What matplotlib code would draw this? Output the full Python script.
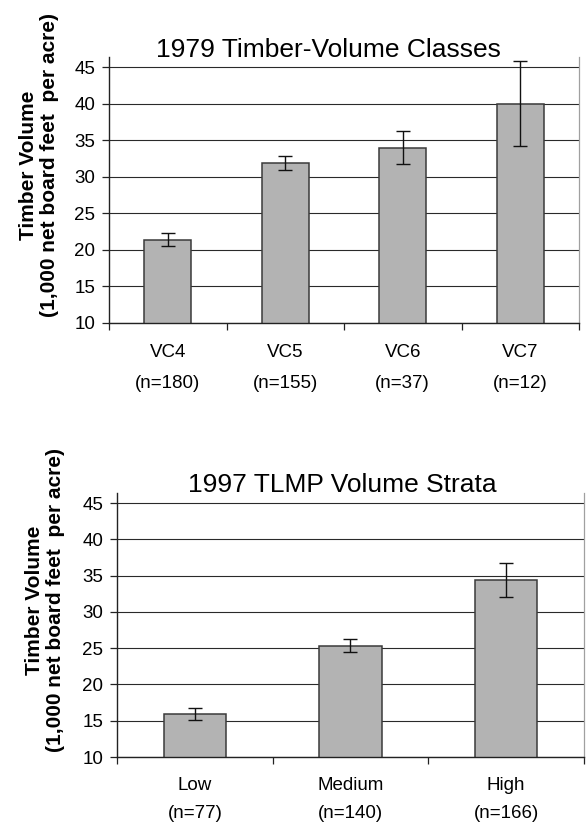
import matplotlib
matplotlib.use("Agg")
import matplotlib.pyplot as plt
import numpy as np

plt.rcParams['font.family'] = ['Liberation Sans', 'DejaVu Sans']

# ---- data ----
top_title = "1979 Timber-Volume Classes"
top_cats = ["VC4", "VC5", "VC6", "VC7"]
top_n = ["(n=180)", "(n=155)", "(n=37)", "(n=12)"]
top_vals = [21.4, 31.9, 34.0, 40.0]
top_err = [0.9, 0.93, 2.25, 5.8]

bot_title = "1997 TLMP Volume Strata"
bot_cats = ["Low", "Medium", "High"]
bot_n = ["(n=77)", "(n=140)", "(n=166)"]
bot_vals = [15.9, 25.35, 34.45]
bot_err = [0.85, 0.93, 2.35]

y_ticks = [10, 15, 20, 25, 30, 35, 40, 45]
ylabel = "Timber Volume\n(1,000 net board feet  per acre)"

W, H = 587, 823
fig = plt.figure(figsize=(W / 100, H / 100), dpi=100)

def px_ax(l, t, r, b):
    return fig.add_axes([l / W, 1 - b / H, (r - l) / W, (b - t) / H])

def draw(ax, cats, ns, vals, errs, title, title_cx, title_base, ylab_x, ylab_cy,
         lab_off, n_off):
    k = len(cats)
    x = np.arange(k) + 0.5
    ax.set_axisbelow(True)
    ax.yaxis.grid(True, color='#2a2a2a', linewidth=0.8)
    ax.bar(x, vals, width=0.4, color='#b3b3b3', edgecolor='#3a3a3a',
           linewidth=1.1, zorder=2, bottom=0)
    ax.errorbar(x, vals, yerr=errs, fmt='none', ecolor='#111111',
                elinewidth=1.0, capsize=4.7, capthick=1.0, zorder=3)
    ax.set_xlim(0, k)
    ax.set_ylim(10, 46.4)
    ax.set_yticks(y_ticks)
    ax.set_xticks(np.arange(k + 1))
    ax.set_xticklabels([])
    ax.tick_params(axis='both', direction='out', length=5 / 0.72 * 0.72,
                   width=0.9, color='#222222')
    ax.tick_params(axis='y', labelsize=13.5, pad=5)
    ax.spines['top'].set_visible(False)
    ax.spines['right'].set_color('#a0a0a0')
    ax.spines['right'].set_linewidth(0.9)
    ax.spines['left'].set_color('#222222')
    ax.spines['bottom'].set_color('#222222')
    ax.spines['left'].set_linewidth(1.0)
    ax.spines['bottom'].set_linewidth(1.0)
    for xi, c, n in zip(x, cats, ns):
        ax.annotate(c, xy=(xi, 0), xycoords=('data', 'axes fraction'),
                    xytext=(0, lab_off), textcoords='offset pixels',
                    ha='center', va='baseline', fontsize=13.5)
        ax.annotate(n, xy=(xi, 0), xycoords=('data', 'axes fraction'),
                    xytext=(0, n_off), textcoords='offset pixels',
                    ha='center', va='baseline', fontsize=13.5)
    fig.text(title_cx / W, 1 - title_base / H, title, ha='center',
             va='baseline', fontsize=19)
    fig.text(ylab_x / W, 1 - ylab_cy / H, ylabel, rotation=90, ha='center',
             va='center', fontsize=15, fontweight='bold', multialignment='center',
             linespacing=1.15)

ax1 = px_ax(109, 57, 579, 323)
draw(ax1, top_cats, top_n, top_vals, top_err, top_title, 328, 57, 39, 165,
     -34, -65)

ax2 = px_ax(117, 493, 584, 757)
draw(ax2, bot_cats, bot_n, bot_vals, bot_err, bot_title, 342, 492, 45, 600,
     -33, -61)

fig.savefig("out.png", dpi=100)
